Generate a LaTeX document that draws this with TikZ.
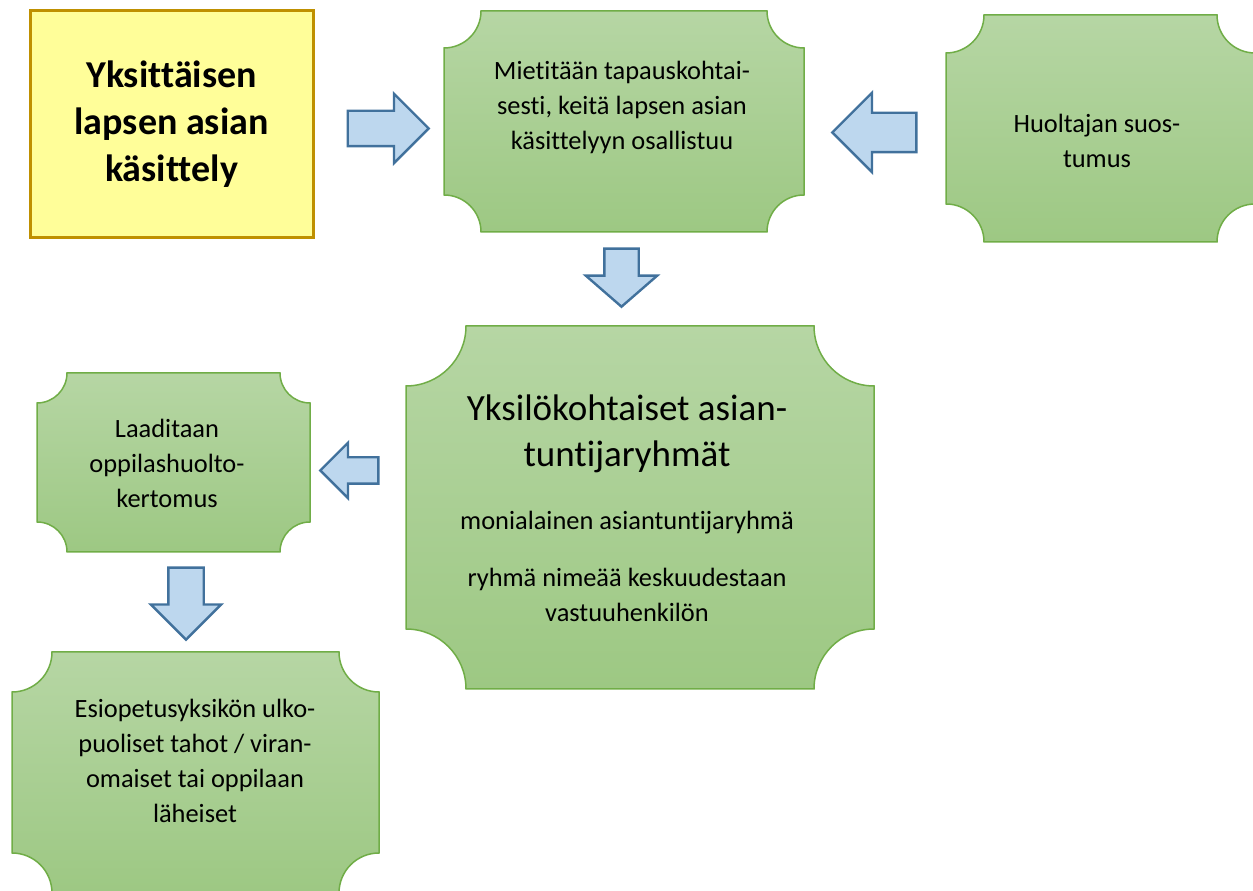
\documentclass[tikz,border=0pt]{standalone}
\usepackage{fontspec}
\setmainfont{Carlito}[Ligatures=NoCommon]
\usetikzlibrary{calc, shapes.arrows}

\definecolor{plaqueTop}{RGB}{182,214,164}
\definecolor{plaqueBot}{RGB}{157,200,131}
\definecolor{plaqueLine}{RGB}{112,173,71}
\definecolor{noteFill}{RGB}{255,254,153}
\definecolor{noteLine}{RGB}{191,144,0}
\definecolor{arrowFill}{RGB}{189,215,238}
\definecolor{arrowLine}{RGB}{65,113,156}

\newcommand{\bigtext}{\fontsize{37}{46}\selectfont}
\newcommand{\bodytext}{\fontsize{26.4}{35}\selectfont}

\tikzset{
  frame/.style={inner sep=0pt, outer sep=0pt},
  plaque/.style={shade, top color=plaqueTop, bottom color=plaqueBot,
    draw=plaqueLine, line width=1.5pt},
  note/.style={draw=noteLine, fill=noteFill, line width=3pt, align=center,
    font=\bfseries\fontsize{38}{47}\selectfont},
  txt/.style={align=center, inner sep=0pt, font=\bodytext},
  blockarrow/.style={single arrow, draw=arrowLine, fill=arrowFill,
    line width=2.4pt, single arrow tip angle=90, single arrow head extend=#1,
    inner sep=0pt, minimum width=0pt, text height=0pt, text depth=0pt,
    anchor=tail}
}

% rectangle with concave corners around a node
\newcommand{\plaque}[2]{%
  \path[plaque] let \p1=(#1.south west), \p2=(#1.north east) in
    (\x1+#2pt,\y2) -- (\x2-#2pt,\y2) arc[start angle=180, end angle=270, radius=#2pt]
    -- (\x2,\y1+#2pt) arc[start angle=90, end angle=180, radius=#2pt]
    -- (\x1+#2pt,\y1) arc[start angle=0, end angle=90, radius=#2pt]
    -- (\x1,\y2-#2pt) arc[start angle=270, end angle=360, radius=#2pt] -- cycle;}

\begin{document}
\begin{tikzpicture}[x=1pt,y=1pt]
\useasboundingbox (0,0) rectangle (1253,891);

\node[note, minimum width=283pt, minimum height=227pt] (alku) at (171.5,766.5)
  {\raisebox{2.5pt}{Yksittäisen}\\\raisebox{2.5pt}{lapsen asian}\\\raisebox{2.5pt}{käsittely}};

\node[frame, minimum width=360pt, minimum height=221pt] (mieti) at (624,769.5) {};
\node[frame, minimum width=309pt, minimum height=227pt] (suostumus) at (1100.5,762.5) {};
\node[frame, minimum width=468pt, minimum height=363pt] (ryhma) at (640,383.5) {};
\node[frame, minimum width=273pt, minimum height=179pt] (kertomus) at (173.5,428.5) {};
\node[frame, minimum width=367pt, minimum height=241pt] (tahot) at (195.5,118.5) {};

\plaque{mieti}{37}
\plaque{suostumus}{38}
\plaque{ryhma}{60}
\plaque{kertomus}{30}
\plaque{tahot}{40}

\node[txt] (mietiT) at (622,784) {Mietitään tapauskohtai-\\sesti, keitä lapsen asian\\käsittelyyn osallistuu};
\node[txt] (suostumusT) at (1097,750.5) {Huoltajan suos-\\tumus};
\node[txt] (ryhmaT) at (627,383) {\bigtext Yksilökohtaiset asian-\\[11pt]\bigtext tuntijaryhmät\\[28pt]monialainen asiantuntijaryhmä\\[22pt]ryhmä nimeää keskuudestaan\\vastuuhenkilön};
\node[txt] (kertomusT) at (167,428) {Laaditaan\\oppilashuolto-\\kertomus};
\node[txt] (tahotT) at (195,130.5) {Esiopetusyksikön ulko-\\puoliset tahot / viran-\\omaiset tai oppilaan\\läheiset};

% block arrows
\node[blockarrow=17pt, minimum height=81pt, inner ysep=16.5pt] (nuoli1) at (346.5,762.5) {};
\node[blockarrow=20pt, minimum height=84pt, inner ysep=18.5pt, rotate=180] (nuoli2) at (917.5,758.5) {};
\node[blockarrow=18.5pt, minimum height=58pt, inner ysep=16pt, rotate=-90, single arrow tip angle=98] (nuoli3) at (621.5,643.5) {};
\node[blockarrow=14.5pt, minimum height=58pt, inner ysep=12pt, rotate=180] (nuoli4) at (379.5,420.5) {};
\node[blockarrow=17.5pt, minimum height=72pt, inner ysep=16.5pt, rotate=-90] (nuoli5) at (186,324.5) {};
\end{tikzpicture}
\end{document}
